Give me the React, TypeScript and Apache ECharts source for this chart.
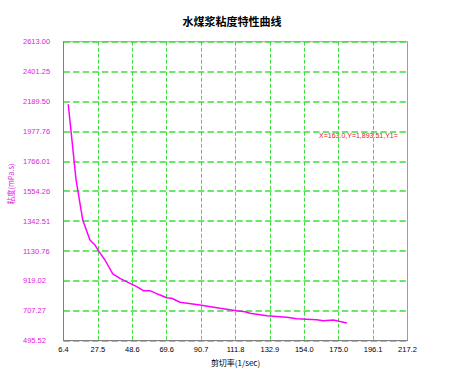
import React, { useEffect, useRef } from "react";
import * as echarts from "echarts";

const titleText = "水煤浆粘度特性曲线";
const xName = "剪切率(1/sec)";
const yName = "粘度(mPa.s)";
const annotation = "X=163.0,Y=1,893.51,Y1=";

const xMin = 6.4;
const xMax = 217.2;
const xStep = 21.08;
const yMin = 495.52;
const yMax = 2613.0;
const yStep = 211.748;

const shearRate = [
  9.3, 14.1, 18.2, 22.6, 25.7, 28.2, 31.8, 36.6, 41.0, 47.2, 51.3, 55.3, 59.4,
  64.5, 69.6, 72.7, 77.8, 90.0, 102.3, 112.5, 117.6, 120.7, 131.0, 143.2,
  149.3, 161.6, 165.6, 171.8, 173.8, 180.0,
];
const viscosity = [
  2170, 1634, 1350, 1209, 1173, 1126, 1067, 968, 937, 902, 878, 850, 850, 824,
  800, 796, 768, 748, 725, 708, 701, 690, 673, 661, 651, 644, 637, 642, 637,
  621,
];

export default function App() {
  const ref = useRef<HTMLDivElement>(null);
  useEffect(() => {
    if (!ref.current) return;
    const chart = echarts.init(ref.current, null, { renderer: "svg" });
    const labelFont = "Liberation Sans";
    const gridGreen = "#3ede3e";
    chart.setOption({
      animation: false,
      backgroundColor: "#ffffff",
      title: {
        text: titleText,
        left: "center",
        top: 10,
        textStyle: {
          fontFamily: "Noto Sans CJK SC",
          fontSize: 11,
          fontWeight: "bold",
          color: "#000000",
        },
      },
      grid: {
        left: 63.5,
        top: 41.7,
        width: 344,
        height: 299,
        show: true,
        borderColor: "#a0a0a0",
        borderWidth: 1,
        backgroundColor: "transparent",
      },
      xAxis: {
        type: "value",
        min: xMin,
        max: xMax,
        interval: xStep,
        name: xName,
        nameLocation: "middle",
        nameGap: 18,
        nameTextStyle: {
          fontFamily: "Noto Sans CJK SC",
          fontSize: 8,
          color: "#000000",
        },
        axisLine: { show: true, lineStyle: { color: "#808080", width: 1 } },
        axisTick: { show: false },
        axisLabel: {
          fontFamily: labelFont,
          fontSize: 7.5,
          color: "#000000",
          margin: 5,
          formatter: (v: number) => v.toFixed(1),
        },
        splitLine: {
          show: true,
          lineStyle: { color: [gridGreen], type: "dashed", width: 1, opacity: 1 },
        },
      },
      yAxis: {
        type: "value",
        min: yMin,
        max: yMax,
        interval: yStep,
        axisLine: { show: true, lineStyle: { color: "#808080", width: 1 } },
        axisTick: { show: false },
        axisLabel: {
          fontFamily: labelFont,
          fontSize: 7.5,
          color: "#e020e0",
          align: "left",
          margin: 40.5,
          formatter: (v: number) => v.toFixed(2),
        },
        splitLine: {
          show: true,
          lineStyle: { color: [gridGreen], type: "dashed", width: 1.6, opacity: 1 },
        },
      },
      graphic: [
        {
          type: "text",
          left: 319,
          top: 132,
          style: {
            text: annotation,
            fontFamily: labelFont,
            fontSize: 7,
            fill: "#e02020",
          },
        },
        {
          type: "text",
          x: 10,
          y: 184,
          rotation: Math.PI / 2,
          style: {
            text: yName,
            fontFamily: "Noto Sans CJK SC",
            fontSize: 7.5,
            fill: "#e020e0",
            align: "center",
            verticalAlign: "middle",
          },
        },
      ],
      series: [
        {
          type: "line",
          data: shearRate.map((x, i) => [x, viscosity[i]]),
          showSymbol: false,
          lineStyle: { color: "#ff00ff", width: 1.5 },
          smooth: false,
          z: 3,
        },
      ],
    });
    return () => chart.dispose();
  }, []);
  return (
    <div
      ref={ref}
      style={{
        position: "fixed",
        left: 0,
        top: 0,
        width: 464,
        height: 372,
        background: "#ffffff",
      }}
    />
  );
}
